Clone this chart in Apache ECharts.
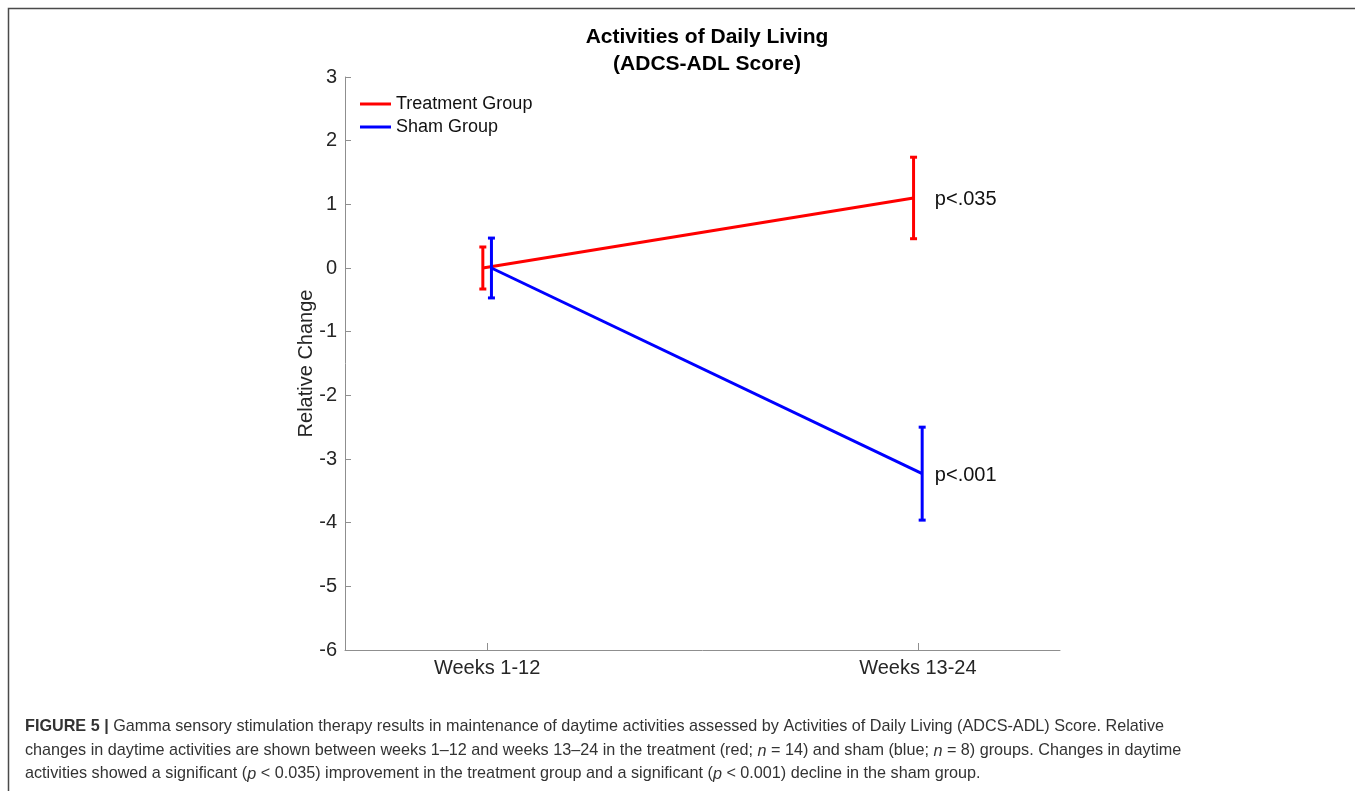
<!DOCTYPE html>
<html>
<head>
<meta charset="utf-8">
<script src="https://cdn.jsdelivr.net/npm/echarts@6/dist/echarts.min.js"></script>
<style>
  html, body { margin: 0; padding: 0; background: #fff; }
  #chart { width: 1355px; height: 791px; }
</style>
</head>
<body>
<div id="chart"></div>
<script>
// Time windows on the x axis
const categories = ['Weeks 1-12', 'Weeks 13-24'];
// Relative change in ADCS-ADL score (mean and error half-width)
const treatmentMean = [0, 1.10];
const treatmentErr = [0.33, 0.64];
const shamMean = [0, -3.23];
const shamErr = [0.47, 0.73];
// Significance notes placed beside the second time window
const pLabels = ['p<.035', 'p<.001'];
const yTicks = [-6, -5, -4, -3, -2, -1, 0, 1, 2, 3];

const RED = '#ff0000';
const BLUE = '#0000ff';
const FONT = '"Liberation Sans", Arial, Helvetica, sans-serif';
const TICK_COLOR = '#262626';
const AXIS_COLOR = '#8f8f8f';

// slight horizontal dodge so the two groups' error bars don't overlap
const DODGE = 0.01;

function pts(means, shift) {
  return means.map((m, i) => [i + 1 + shift, m]);
}

function errData(means, errs, shift) {
  return means.map((m, i) => [i + 1 + shift, m - errs[i], m + errs[i]]);
}

function errorBarSeries(name, means, errs, shift, color) {
  return {
    type: 'custom',
    name: name + ' error',
    data: errData(means, errs, shift),
    z: 5,
    renderItem: function (params, api) {
      const x = api.value(0);
      const lo = api.coord([x, api.value(1)]);
      const hi = api.coord([x, api.value(2)]);
      const cap = 3.5;
      const style = { stroke: color, lineWidth: 3 };
      return {
        type: 'group',
        children: [
          { type: 'line', shape: { x1: lo[0], y1: lo[1], x2: hi[0], y2: hi[1] }, style: style },
          { type: 'line', shape: { x1: lo[0] - cap, y1: lo[1], x2: lo[0] + cap, y2: lo[1] }, style: style },
          { type: 'line', shape: { x1: hi[0] - cap, y1: hi[1], x2: hi[0] + cap, y2: hi[1] }, style: style }
        ]
      };
    }
  };
}

// p-value note written to the right of the second time window, level with the group mean
function noteSeries(means, note) {
  const last = means.length - 1;
  return {
    type: 'custom',
    name: note,
    data: [[last + 1, means[last]]],
    z: 6,
    renderItem: function (params, api) {
      const p = api.coord([api.value(0), api.value(1)]);
      return {
        type: 'text',
        x: p[0] + 17,
        y: p[1] + 2,
        style: {
          text: note,
          fontFamily: FONT,
          fontSize: 20,
          fill: '#111',
          verticalAlign: 'middle',
          align: 'left'
        }
      };
    }
  };
}

const chart = echarts.init(document.getElementById('chart'), null, { renderer: 'canvas' });

const CAP_SIZE = 16.2;
const captionStyle = {
  fontFamily: FONT,
  fontSize: CAP_SIZE,
  fill: '#333333'
};

chart.setOption({
  animation: false,
  backgroundColor: '#ffffff',
  title: {
    text: 'Activities of Daily Living\n(ADCS-ADL Score)',
    left: 702,
    top: 19,
    textAlign: 'center',
    textStyle: {
      fontFamily: FONT,
      fontSize: 21,
      fontWeight: 'bold',
      color: '#000',
      lineHeight: 27
    }
  },
  legend: {
    data: ['Treatment Group', 'Sham Group'],
    orient: 'vertical',
    left: 360,
    top: 94,
    icon: 'rect',
    itemWidth: 31,
    itemHeight: 3,
    itemGap: 3,
    padding: 0,
    textStyle: { fontFamily: FONT, fontSize: 18, color: '#111', lineHeight: 20 }
  },
  grid: { left: 345, top: 77, width: 715, height: 573 },
  xAxis: {
    type: 'value',
    min: 0.67,
    max: 2.33,
    splitLine: { show: false },
    axisLine: { show: true, onZero: false, lineStyle: { color: AXIS_COLOR, width: 1 } },
    axisTick: { show: true, inside: true, length: 7, customValues: [1, 2], lineStyle: { color: AXIS_COLOR } },
    axisLabel: {
      customValues: [1, 2],
      formatter: v => categories[Math.round(v) - 1] || '',
      color: TICK_COLOR,
      fontFamily: FONT,
      fontSize: 20,
      margin: 8
    }
  },
  yAxis: {
    type: 'value',
    min: -6,
    max: 3,
    interval: 1,
    name: 'Relative Change',
    nameLocation: 'middle',
    nameGap: 29,
    nameMoveOverlap: false,
    nameTextStyle: { fontFamily: FONT, fontSize: 20, color: TICK_COLOR },
    splitLine: { show: false },
    axisLine: { show: true, lineStyle: { color: AXIS_COLOR, width: 1 } },
    axisTick: { show: true, inside: true, length: 6, lineStyle: { color: AXIS_COLOR } },
    axisLabel: {
      color: TICK_COLOR,
      fontFamily: FONT,
      fontSize: 20,
      margin: 8,
      formatter: v => (yTicks.indexOf(v) >= 0 ? String(v) : '')
    }
  },
  series: [
    {
      name: 'Treatment Group',
      type: 'line',
      data: pts(treatmentMean, -DODGE),
      symbol: 'none',
      lineStyle: { color: RED, width: 3 },
      itemStyle: { color: RED },
      z: 4
    },
    {
      name: 'Sham Group',
      type: 'line',
      data: pts(shamMean, DODGE),
      symbol: 'none',
      lineStyle: { color: BLUE, width: 3 },
      itemStyle: { color: BLUE },
      z: 4
    },
    errorBarSeries('Treatment Group', treatmentMean, treatmentErr, -DODGE, RED),
    errorBarSeries('Sham Group', shamMean, shamErr, DODGE, BLUE),
    noteSeries(treatmentMean, pLabels[0]),
    noteSeries(shamMean, pLabels[1])
  ],
  graphic: [
    {
      type: 'polyline',
      shape: { points: [[8.5, 800], [8.5, 8.5], [1365, 8.5]] },
      style: { stroke: '#4a4a4a', lineWidth: 1.5, fill: null },
      silent: true
    },
    {
      type: 'text',
      left: 25,
      top: 719,
      style: {
        text: '{b|FIGURE 5 |} Gamma sensory stimulation therapy results in maintenance of daytime activities assessed by Activities of Daily Living (ADCS-ADL) Score. Relative',
        rich: { b: { fontWeight: 'bold', fontFamily: FONT, fontSize: CAP_SIZE, fill: '#333' } },
        ...captionStyle
      }
    },
    {
      type: 'text',
      left: 25,
      top: 743,
      style: {
        text: 'changes in daytime activities are shown between weeks 1\u201312 and weeks 13\u201324 in the treatment (red; {i|n} = 14) and sham (blue; {i|n} = 8) groups. Changes in daytime',
        rich: { i: { fontStyle: 'italic', fontFamily: FONT, fontSize: CAP_SIZE, fill: '#333' } },
        ...captionStyle
      }
    },
    {
      type: 'text',
      left: 25,
      top: 766,
      style: {
        text: 'activities showed a significant ({i|p} < 0.035) improvement in the treatment group and a significant ({i|p} < 0.001) decline in the sham group.',
        rich: { i: { fontStyle: 'italic', fontFamily: FONT, fontSize: CAP_SIZE, fill: '#333' } },
        ...captionStyle
      }
    }
  ]
});
</script>
</body>
</html>
